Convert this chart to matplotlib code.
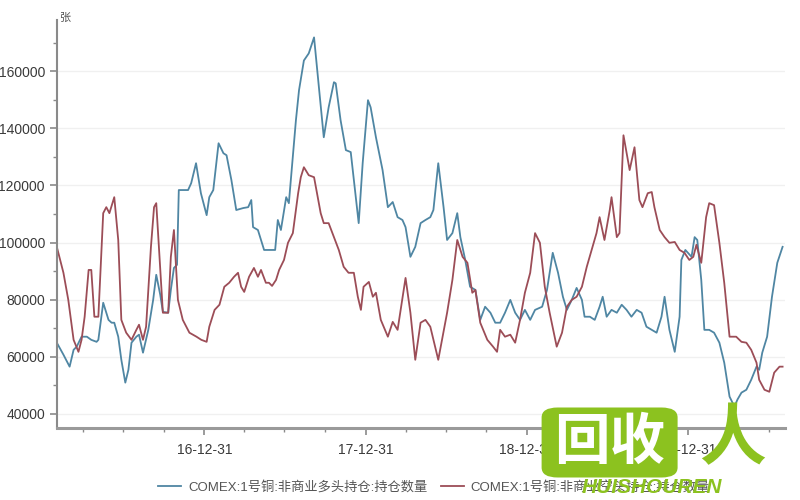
import numpy as np
import pandas as pd
import matplotlib
matplotlib.use("Agg")
import matplotlib.pyplot as plt
import matplotlib.dates as mdates
from matplotlib.patches import FancyBboxPatch
from matplotlib.ticker import MultipleLocator

plt.rcParams['font.family'] = ['Liberation Sans', 'Noto Sans CJK SC', 'DejaVu Sans']

# 多头持仓 (blue)
long_dates = [
    "2016-02-01", "2016-02-16", "2016-03-01", "2016-03-10", "2016-03-17", "2016-03-28",
    "2016-04-09", "2016-04-19", "2016-05-01", "2016-05-05", "2016-05-16", "2016-05-28",
    "2016-06-04", "2016-06-10", "2016-06-19", "2016-06-26", "2016-07-05", "2016-07-12",
    "2016-07-19", "2016-07-30", "2016-08-05", "2016-08-14", "2016-08-26", "2016-09-06",
    "2016-09-13", "2016-09-22", "2016-09-28", "2016-10-10", "2016-10-16", "2016-10-23",
    "2016-10-30", "2016-11-03", "2016-11-24", "2016-12-01", "2016-12-12", "2016-12-23",
    "2017-01-05", "2017-01-11", "2017-01-20", "2017-02-01", "2017-02-12", "2017-02-19",
    "2017-03-02", "2017-03-13", "2017-03-29", "2017-04-09", "2017-04-16", "2017-04-20",
    "2017-05-01", "2017-05-15", "2017-05-31", "2017-06-09", "2017-06-15", "2017-06-22",
    "2017-07-04", "2017-07-10", "2017-07-26", "2017-08-02", "2017-08-13", "2017-08-24",
    "2017-09-05", "2017-09-16", "2017-09-27", "2017-10-08", "2017-10-20", "2017-10-24",
    "2017-11-04", "2017-11-16", "2017-11-27", "2017-12-04", "2017-12-15", "2017-12-24",
    "2018-01-05", "2018-01-11", "2018-01-23", "2018-02-07", "2018-02-19", "2018-03-02",
    "2018-03-13", "2018-03-24", "2018-03-31", "2018-04-11", "2018-04-22", "2018-05-04",
    "2018-05-15", "2018-05-26", "2018-06-02", "2018-06-13", "2018-06-25", "2018-07-03",
    "2018-07-15", "2018-07-26", "2018-08-02", "2018-08-13", "2018-08-24", "2018-09-05",
    "2018-09-16", "2018-09-27", "2018-10-09", "2018-10-20", "2018-10-31", "2018-11-11",
    "2018-11-23", "2018-12-04", "2018-12-15", "2018-12-26", "2019-01-07", "2019-01-18",
    "2019-02-03", "2019-02-14", "2019-02-27", "2019-03-11", "2019-03-22", "2019-03-31",
    "2019-04-11", "2019-04-22", "2019-05-04", "2019-05-10", "2019-05-22", "2019-06-02",
    "2019-06-13", "2019-06-20", "2019-06-29", "2019-07-10", "2019-07-22", "2019-08-02",
    "2019-08-13", "2019-08-24", "2019-09-05", "2019-09-16", "2019-09-27", "2019-10-09",
    "2019-10-20", "2019-10-31", "2019-11-07", "2019-11-18", "2019-11-30", "2019-12-11",
    "2019-12-15", "2019-12-24", "2020-01-07", "2020-01-14", "2020-01-20", "2020-01-29",
    "2020-02-05", "2020-02-16", "2020-02-27", "2020-03-10", "2020-03-21", "2020-04-02",
    "2020-04-13", "2020-04-20", "2020-04-29", "2020-05-10", "2020-05-21", "2020-06-02",
    "2020-06-08", "2020-06-15", "2020-06-26", "2020-07-07", "2020-07-19", "2020-07-31",
]
long_vals = [
    64900, 60700, 56500, 62400, 63500, 67000,
    67000, 65900, 65200, 65900, 78900, 72900,
    71900, 71900, 67000, 58900, 50900, 55400,
    64900, 67000, 67700, 61400, 69400, 79900,
    88700, 81700, 75700, 75400, 83400, 91100,
    92200, 118400, 118400, 120800, 127800, 117300,
    109600, 115900, 118400, 134800, 131300, 130600,
    121900, 111400, 112100, 112400, 114900, 105400,
    104400, 97400, 97400, 97400, 107900, 104400,
    115900, 113800, 142900, 153400, 163800, 166300,
    171900, 154400, 136900, 147400, 156200, 155800,
    142900, 132400, 131700, 121900, 106800, 127800,
    149900, 147400, 136900, 125400, 112400, 114200,
    108900, 107900, 105400, 95000, 98500, 106800,
    107900, 108900, 111400, 127800, 112400, 100900,
    103300, 110300, 101900, 93900, 84500, 83400,
    72900, 77500, 75400, 71900, 71900, 75400,
    79900, 75400, 72900, 76400, 72900, 76400,
    77500, 83400, 96400, 89400, 81000, 76400,
    79900, 84100, 79900, 74000, 74000, 72900,
    77500, 81000, 74000, 76400, 75400, 78200,
    76400, 74000, 76400, 75400, 70500, 69400,
    68400, 74000, 81000, 69400, 61700, 74000,
    93900, 97400, 95000, 101900, 100900, 86900,
    69400, 69400, 68400, 64900, 57900, 46000,
    42500, 45000, 47400, 48400, 51900, 56500,
    55400, 61400, 67000, 81000, 92900, 98500,
]

# 空头持仓 (red)
short_dates = [
    "2016-02-01", "2016-02-16", "2016-02-27", "2016-03-10", "2016-03-21", "2016-03-28",
    "2016-04-04", "2016-04-13", "2016-04-19", "2016-04-26", "2016-05-05", "2016-05-16",
    "2016-05-23", "2016-05-30", "2016-06-10", "2016-06-19", "2016-06-26", "2016-07-07",
    "2016-07-19", "2016-07-30", "2016-08-05", "2016-08-14", "2016-08-21", "2016-09-01",
    "2016-09-08", "2016-09-13", "2016-09-19", "2016-09-28", "2016-10-10", "2016-10-16",
    "2016-10-23", "2016-11-01", "2016-11-12", "2016-11-27", "2016-12-13", "2016-12-24",
    "2017-01-05", "2017-01-11", "2017-01-23", "2017-02-03", "2017-02-14", "2017-02-25",
    "2017-03-08", "2017-03-17", "2017-03-24", "2017-03-31", "2017-04-11", "2017-04-22",
    "2017-05-01", "2017-05-08", "2017-05-19", "2017-05-26", "2017-06-02", "2017-06-11",
    "2017-06-18", "2017-06-29", "2017-07-08", "2017-07-19", "2017-07-31", "2017-08-06",
    "2017-08-13", "2017-08-24", "2017-09-05", "2017-09-20", "2017-09-27", "2017-10-08",
    "2017-10-20", "2017-10-31", "2017-11-11", "2017-11-22", "2017-12-04", "2017-12-13",
    "2017-12-20", "2017-12-26", "2018-01-07", "2018-01-16", "2018-01-23", "2018-02-03",
    "2018-02-19", "2018-03-02", "2018-03-13", "2018-03-31", "2018-04-11", "2018-04-22",
    "2018-05-04", "2018-05-15", "2018-05-26", "2018-06-13", "2018-07-03", "2018-07-15",
    "2018-07-26", "2018-08-07", "2018-08-18", "2018-08-29", "2018-09-05", "2018-09-16",
    "2018-10-02", "2018-10-15", "2018-10-24", "2018-10-31", "2018-11-11", "2018-11-23",
    "2018-12-04", "2018-12-15", "2018-12-26", "2019-01-07", "2019-01-18", "2019-01-29",
    "2019-02-09", "2019-02-20", "2019-03-08", "2019-03-20", "2019-03-31", "2019-04-11",
    "2019-04-22", "2019-05-04", "2019-05-15", "2019-05-26", "2019-06-06", "2019-06-13",
    "2019-06-24", "2019-07-06", "2019-07-10", "2019-07-22", "2019-07-28", "2019-08-06",
    "2019-08-20", "2019-08-31", "2019-09-11", "2019-09-18", "2019-09-30", "2019-10-09",
    "2019-10-15", "2019-10-27", "2019-11-07", "2019-11-18", "2019-11-30", "2019-12-11",
    "2019-12-22", "2020-01-02", "2020-01-11", "2020-01-18", "2020-01-29", "2020-02-09",
    "2020-02-16", "2020-02-27", "2020-03-10", "2020-03-21", "2020-04-02", "2020-04-17",
    "2020-04-29", "2020-05-10", "2020-05-21", "2020-06-02", "2020-06-08", "2020-06-20",
    "2020-07-01", "2020-07-12", "2020-07-24", "2020-07-31",
]
short_vals = [
    98500, 89400, 79900, 65900, 61700, 65900,
    74000, 90400, 90400, 74000, 74000, 110300,
    112400, 110300, 115900, 100900, 72900, 68400,
    65900, 69400, 71200, 65900, 70500, 98500,
    112400, 113800, 98500, 75400, 75400, 95000,
    104400, 79900, 72900, 68400, 67000, 65900,
    65200, 70500, 76400, 78200, 84500, 85900,
    88000, 89400, 84500, 82700, 88000, 91100,
    88000, 90400, 85900, 85900, 84800, 86900,
    90400, 93900, 99900, 103300, 117300, 122900,
    126400, 123600, 122900, 110300, 106800, 106800,
    101900, 97400, 91500, 89400, 89400, 81000,
    76400, 84500, 86200, 81000, 82400, 72900,
    67000, 72200, 69400, 87600, 75400, 58900,
    71900, 72900, 70500, 58900, 75400, 86900,
    100900, 95000, 92900, 82400, 83400, 71900,
    65900, 63500, 61700, 69400, 67000, 67700,
    64900, 72900, 82400, 89400, 103300, 99900,
    84500, 75400, 63500, 68400, 77500, 79900,
    81000, 84500, 91500, 97400, 103300, 108900,
    100900, 111400, 115900, 101900, 103300, 137600,
    125400, 133400, 114900, 112400, 117300, 117700,
    112400, 104400, 101900, 99900, 100200, 97400,
    96400, 93900, 95000, 99200, 92900, 108900,
    113800, 113100, 99900, 85900, 67000, 67000,
    65200, 64900, 62400, 57900, 51900, 48400,
    47700, 54400, 56500, 56500,
]

long_label = "COMEX:1号铜:非商业多头持仓:持仓数量"
short_label = "COMEX:1号铜:非商业空头持仓:持仓数量"
year_ticks = ["2016-12-31", "2017-12-31", "2018-12-31", "2019-12-31"]
year_labels = ["16-12-31", "17-12-31", "18-12-31", "19-12-31"]
quarter_ticks = pd.date_range("2016-03-31", "2020-06-30", freq="QE")

blue = "#4f86a3"
red = "#9c4d57"

fig = plt.figure(figsize=(8, 5), dpi=100)
ax = fig.add_axes([0.071, 0.144, 0.91, 0.816])

ax.plot(pd.to_datetime(long_dates), long_vals, color=blue, lw=1.3, label=long_label)
ax.plot(pd.to_datetime(short_dates), short_vals, color=red, lw=1.3, label=short_label)

ax.set_xlim(pd.Timestamp("2016-02-01"), pd.Timestamp("2020-08-05"))
ax.set_ylim(35000, 178000)

ax.yaxis.set_minor_locator(MultipleLocator(10000))
ax.set_yticks(range(40000, 160001, 20000))
ax.set_xticks(pd.to_datetime(year_ticks))
ax.set_xticklabels(year_labels)
ax.set_xticks(quarter_ticks, minor=True)

ax.grid(axis="y", which="major", color="#f0f0f0", lw=1)
ax.set_axisbelow(True)

for s in ["top", "right"]:
    ax.spines[s].set_visible(False)
ax.spines["left"].set_color("#8a8a8a")
ax.spines["left"].set_linewidth(1.5)
ax.spines["bottom"].set_color("#9a9a9a")
ax.spines["bottom"].set_linewidth(2.2)

ax.tick_params(axis="both", which="major", colors="#8a8a8a", labelcolor="#3a3a3a",
               labelsize=10, length=5, width=1.2)
ax.tick_params(axis="both", which="minor", colors="#8a8a8a", length=3, width=1)
ax.tick_params(axis="x", which="major", pad=6)

fig.text(0.074, 0.965, "张", fontsize=8, color="#555555",
         family=['Noto Sans CJK SC', 'DejaVu Sans'], ha="left", va="center")

leg = ax.legend(loc="upper center", bbox_to_anchor=(0.518, -0.1), ncol=2, frameon=False,
                handlelength=1.8, handletextpad=0.5, columnspacing=1.0,
                prop={'family': ['Liberation Sans', 'Noto Sans CJK SC'], 'size': 9.5})
for t in leg.get_texts():
    t.set_color("#555555")

# watermark logo
green = "#8cc21f"
logo = FancyBboxPatch((0.682, 0.05), 0.16, 0.13, boxstyle="round,pad=0.005,rounding_size=0.02",
                      transform=fig.transFigure, facecolor=green, edgecolor="none", zorder=5)
fig.patches.append(logo)
fig.text(0.762, 0.115, "回收", fontsize=40, color="white", weight="bold",
         family=['Noto Sans CJK SC', 'DejaVu Sans'], ha="center", va="center", zorder=6)
fig.text(0.915, 0.12, "人", fontsize=48, color=green, weight="bold",
         family=['Noto Sans CJK SC', 'DejaVu Sans'], ha="center", va="center", zorder=6)
fig.text(0.815, 0.025, "HUISHOUREN", fontsize=15, color=green, weight="bold", style="italic",
         ha="center", va="center", zorder=6)

fig.savefig("out.png", dpi=100)
